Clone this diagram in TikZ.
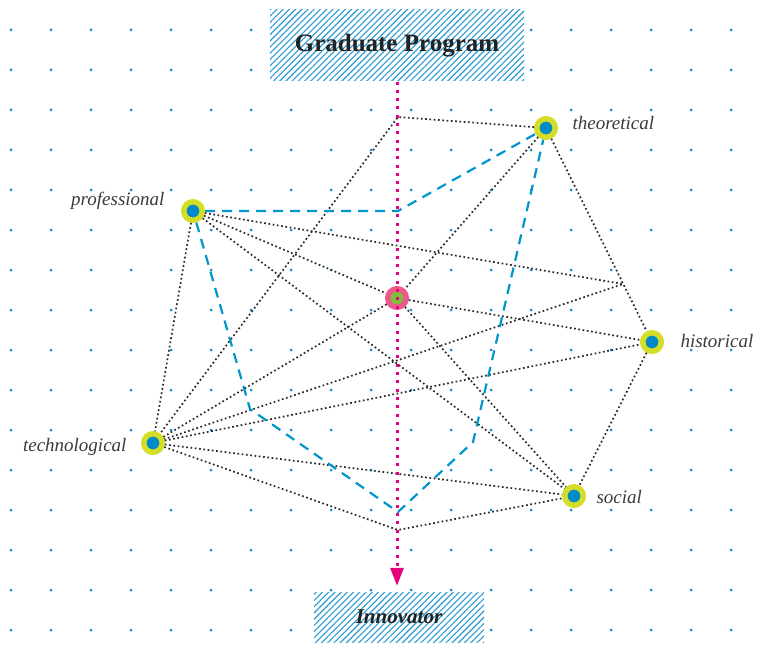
\documentclass[tikz,border=0pt]{standalone}
\usepackage{fontspec}
\setmainfont{Liberation Serif}
\usetikzlibrary{arrows.meta,patterns.meta}

\definecolor{gridblue}{RGB}{0,146,204}
\definecolor{hatchblue}{RGB}{40,155,210}
\definecolor{ringgreen}{RGB}{212,222,38}
\definecolor{nodeblue}{RGB}{0,137,200}
\definecolor{corepink}{RGB}{236,90,140}
\definecolor{coregreen}{RGB}{125,190,60}
\definecolor{arrowpink}{RGB}{230,0,126}
\definecolor{dashblue}{RGB}{0,150,205}
\definecolor{dotgray}{RGB}{40,40,40}
\definecolor{textgray}{RGB}{58,58,58}
\definecolor{titlegray}{RGB}{34,34,34}

\tikzset{
  hub/.style={circle,fill=nodeblue,draw=ringgreen,line width=5.5pt,minimum size=18.5pt,inner sep=0pt},
  core/.style={hub,fill=coregreen,draw=corepink},
  link/.style={dotgray,line width=1.7pt,dash pattern=on 1.7pt off 2.6pt},
  route/.style={dashblue,line width=2.2pt,dash pattern=on 10pt off 7pt},
  lbl/.style={text=textgray,font=\fontsize{19}{22}\selectfont\itshape},
  banner/.style={preaction={fill=white},pattern={Lines[angle=45,distance=4.4pt,line width=1.1pt]},
    pattern color=hatchblue,inner sep=0pt,text=titlegray},
}

\begin{document}
\begin{tikzpicture}[x=1pt,y=-1pt]
    \useasboundingbox (0,0) rectangle (768,647);

    % dot grid
    \foreach \x in {11,51,...,731}
    \foreach \y in {30,70,...,630}
    \fill[gridblue] (\x,\y) circle (1.5pt);

    \node[banner,minimum width=254pt,minimum height=71pt,font=\bfseries\fontsize{25}{30}\selectfont] (grad) at (397,45.5) {Graduate Program};
    \node[banner,minimum width=170pt,minimum height=50pt,font=\bfseries\itshape\fontsize{21}{25}\selectfont] (inno) at (399,617) {Innovator};

    \node[hub] (prof) at (193,211) {};
    \node[hub] (theo) at (546,128) {};
    \node[hub] (hist) at (652,342) {};
    \node[hub] (soc) at (574,496) {};
    \node[hub] (tech) at (153,443) {};
    \node[core] (mid) at (397,298) {};

    \coordinate (jtop) at (398,117);
    \coordinate (jright) at (623,284);
    \coordinate (jbot) at (398,530);
    \coordinate (bend1) at (398,211);
    \coordinate (bend2) at (250,409);
    \coordinate (bend3) at (398,512);
    \coordinate (bend4) at (473,442);

    % dotted links
    \draw[link] (theo) -- (jtop) -- (tech);
    \draw[link] (theo) -- (hist) -- (soc);
    \draw[link] (theo) -- (mid);
    \draw[link] (prof) -- (jright) -- (tech);
    \draw[link] (prof) -- (mid);
    \draw[link] (prof) -- (soc);
    \draw[link] (prof) -- (tech);
    \draw[link] (tech) -- (mid);
    \draw[link] (tech) -- (hist);
    \draw[link] (tech) -- (soc);
    \draw[link] (tech) -- (jbot) -- (soc);
    \draw[link] (mid) -- (hist);
    \draw[link] (mid) -- (soc);

    % dashed routes
    \draw[route] (prof) -- (bend1) -- (theo);
    \draw[route] (prof) -- (bend2) -- (bend3) -- (bend4) -- (theo);

    \draw[arrowpink,line width=3pt,dash pattern=on 3pt off 5.3pt,-{Triangle[width=13pt,length=18pt]},shorten >=6pt]
      (grad.south) -- (grad.south |- inno.north);

    \node[lbl,anchor=base west] (theo-t) at (569,130) {theoretical};
    \node[lbl,anchor=base west] (hist-t) at (677,347) {historical};
    \node[lbl,anchor=base west] (soc-t) at (593,503) {social};
    \node[lbl,anchor=base east] (prof-t) at (168,206) {professional};
    \node[lbl,anchor=base east] (tech-t) at (130,451) {technological};

\end{tikzpicture}
\end{document}
